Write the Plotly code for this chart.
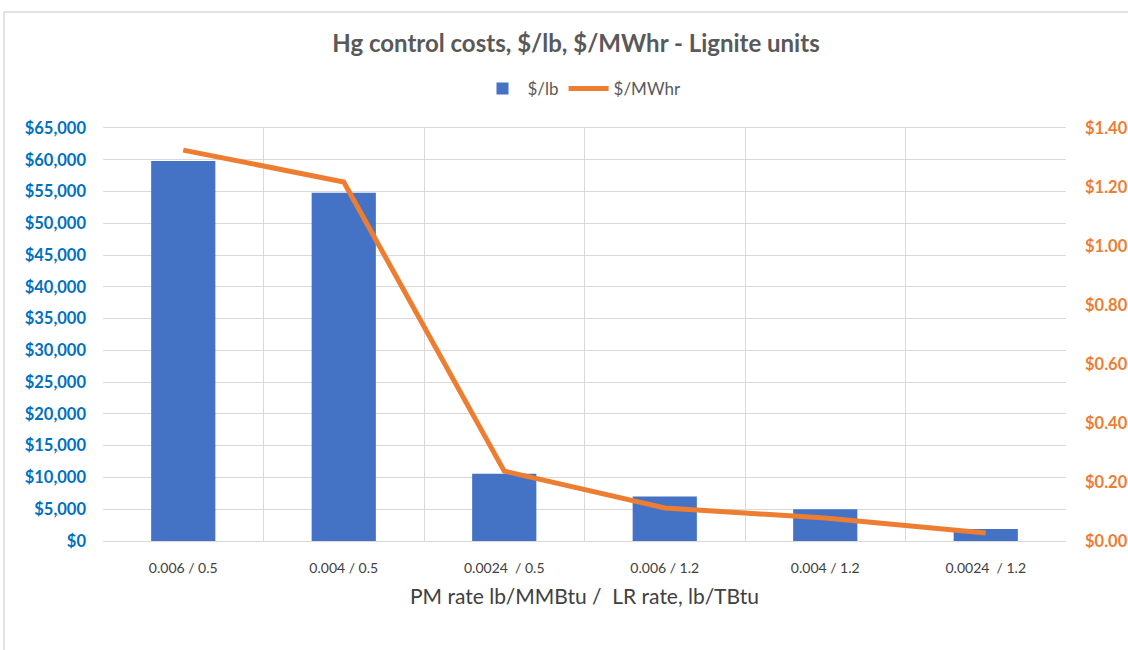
import plotly.graph_objects as go

categories = ["0.006 / 0.5", "0.004 / 0.5", "0.0024  / 0.5", "0.006 / 1.2", "0.004 / 1.2", "0.0024  / 1.2"]
cost_per_lb = [59800, 54800, 10600, 7000, 5000, 1900]
cost_per_mwhr = [1.325, 1.217, 0.237, 0.112, 0.078, 0.027]

W, H = 1128, 650
L, R, T, B = 103, 62, 128, 109
pw, ph = W - L - R, H - T - B

def px_x(x):
    return (x - L) / pw

def px_y(y):
    return (H - B - y) / ph

FONT = "Lato, 'Open Sans', sans-serif"

fig = go.Figure()
fig.add_trace(go.Bar(
    x=categories, y=cost_per_lb, name="$/lb",
    marker=dict(color="#4472C4", line=dict(width=0)),
    width=0.4, yaxis="y",
))
fig.add_trace(go.Scatter(
    x=categories, y=cost_per_mwhr, name="$/MWhr", mode="lines",
    line=dict(color="#ED7D31", width=5), yaxis="y2",
))

fig.update_layout(
    width=W, height=H,
    margin=dict(l=L, r=R, t=T, b=B, autoexpand=False),
    paper_bgcolor="white", plot_bgcolor="white",
    font=dict(family=FONT, color="#595959"),
    title=dict(text="<b>Hg control costs, $/lb, $/MWhr - Lignite units</b>",
               x=px_x(576), xref="paper", xanchor="center",
               y=1 - 44 / H, yanchor="middle",
               font=dict(size=24, color="#595959", family=FONT)),
    legend=dict(orientation="h", x=px_x(582), xanchor="center", y=px_y(89), yanchor="middle",
                font=dict(size=17, color="#595959", family=FONT), traceorder="normal",
                itemwidth=40),
    bargap=0.6,
    xaxis=dict(
        type="category", tickson="boundaries", range=[-0.5, 5.5],
        showgrid=True, gridcolor="#D9D9D9", gridwidth=1,
        showline=True, linecolor="#D9D9D9", linewidth=1,
        ticks="", ticklabelstandoff=14, automargin=False,
        tickfont=dict(size=14, color="#404040", family=FONT),
        title=dict(text="PM rate lb/MMBtu /  LR rate, lb/TBtu", standoff=14,
                   font=dict(size=21, color="#404040", family=FONT)),
        mirror=True,
    ),
    yaxis=dict(
        range=[0, 65000], dtick=5000, tick0=0,
        tickprefix="$", tickformat=",d",
        showgrid=True, gridcolor="#D9D9D9", gridwidth=1,
        zeroline=False, showline=False, automargin=False,
        ticks="", ticklabelstandoff=16,
        tickfont=dict(size=16.5, color="#0070C0", family=FONT, weight="bold"),
    ),
    yaxis2=dict(
        overlaying="y", side="right",
        range=[0, 1.4], dtick=0.2, tick0=0,
        tickprefix="$", tickformat=".2f",
        showgrid=False, zeroline=False, showline=False, automargin=False,
        ticks="", ticklabelstandoff=18,
        tickfont=dict(size=16.5, color="#ED7D31", family=FONT, weight="bold"),
    ),
    shapes=[
        dict(type="rect", xref="paper", yref="paper",
             x0=px_x(4), x1=px_x(1140), y0=px_y(660), y1=px_y(12),
             line=dict(color="#D9D9D9", width=1.5), fillcolor="rgba(0,0,0,0)", layer="below"),
    ],
)

fig.write_html("out.html")
